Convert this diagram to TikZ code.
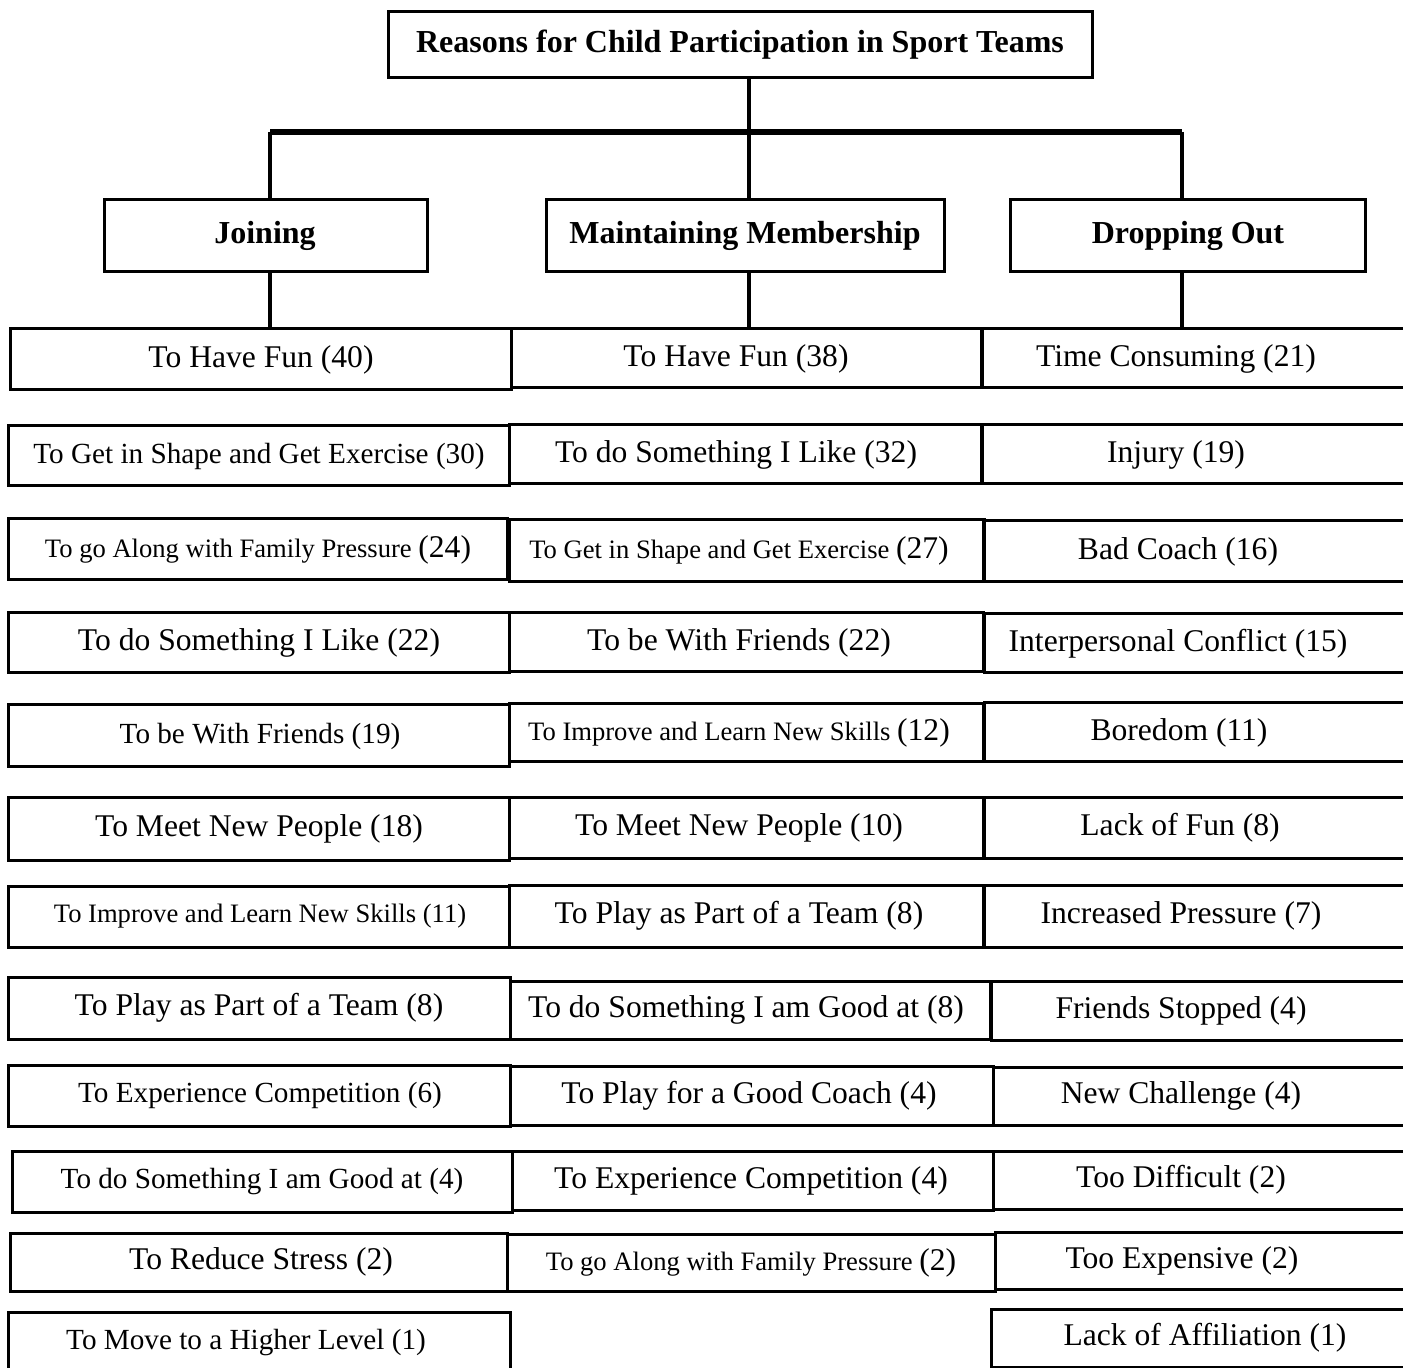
\documentclass[tikz,border=0pt]{standalone}
\usepackage{fontspec}
\setmainfont{Liberation Serif}
\newcommand\szB{\fontsize{15.8pt}{18pt}\selectfont}
\newcommand\szM{\fontsize{14.6pt}{17pt}\selectfont}
\newcommand\szS{\fontsize{13.3pt}{16pt}\selectfont}
\newcommand\szH{\fontsize{16pt}{19pt}\selectfont\bfseries}
\tikzset{
  box/.style={draw=black, line width=1.5pt, rectangle, inner sep=0pt, outer sep=0pt},
  txt/.style={inner sep=0pt, outer sep=0pt, text=black},
  conn/.style={draw=black, line width=1.6pt},
  hbar/.style={draw=black, line width=2.6pt},
}
\newcommand\mybox[7]{%
  \node[box, minimum width={(#4-#2)*0.5pt}, minimum height={(#5-#3)*0.5pt}] (#1) at ({(#2+#4)/2},{(#3+#5)/2}) {};
  \node[txt] (#1t) at (#6,{(#3+#5)/2}) {#7};}
\begin{document}
\begin{tikzpicture}[x=0.5pt,y=-0.5pt]
\useasboundingbox (0,0) rectangle (1403,1368);
\fill[white] (0,0) rectangle (1403,1368);
\clip (0,0) rectangle (1403,1368);

% title and headers
\mybox{title}{388}{12}{1092}{78}{740}{\szH Reasons for Child Participation in Sport Teams}
\mybox{join}{104}{200}{427}{272}{265}{\szH Joining}
\mybox{maint}{546}{200}{944}{272}{745}{\szH Maintaining Membership}
\mybox{drop}{1010}{200}{1365}{272}{1188}{\szH Dropping Out}

% Joining column
\mybox{j1}{10}{329}{511}{390}{261}{\szB To Have Fun (40)}
\mybox{j2}{8}{426}{509}{486}{259}{\szM To Get in Shape and Get Exercise (30)}
\mybox{j3}{8}{519}{507}{580}{258}{{\szS To go Along with Family Pressure }{\szB (24)}}
\mybox{j4}{8}{613}{509}{673}{259}{\szB To do Something I Like (22)}
\mybox{j5}{8}{705}{509}{767}{260}{\szM To be With Friends (19)}
\mybox{j6}{8}{798}{509}{860}{259}{\szB To Meet New People (18)}
\mybox{j7}{8}{886}{509}{947}{260}{\szS To Improve and Learn New Skills (11)}
\mybox{j8}{8}{977}{510}{1039}{259}{\szB To Play as Part of a Team (8)}
\mybox{j9}{8}{1065}{510}{1126}{260}{\szM To Experience Competition (6)}
\mybox{j10}{12}{1151}{512}{1212}{262}{\szM To do Something I am Good at (4)}
\mybox{j11}{10}{1233}{507}{1291}{261}{\szB To Reduce Stress (2)}
\mybox{j12}{8}{1312}{510}{1374}{246}{\szM To Move to a Higher Level (1)}

% Maintaining column
\mybox{m1}{511}{329}{982}{388}{736}{\szB To Have Fun (38)}
\mybox{m2}{509}{425}{982}{484}{736}{\szB To do Something I Like (32)}
\mybox{m3}{509}{520}{984}{582}{739}{{\szS To Get in Shape and Get Exercise }{\szB (27)}}
\mybox{m4}{509}{613}{983}{672}{739}{\szB To be With Friends (22)}
\mybox{m5}{509}{704}{983}{762}{739}{{\szS To Improve and Learn New Skills }{\szB (12)}}
\mybox{m6}{509}{798}{983}{858}{739}{\szB To Meet New People (10)}
\mybox{m7}{509}{885}{983}{947}{739}{\szB To Play as Part of a Team (8)}
\mybox{m8}{510}{981}{990}{1039}{746}{\szB To do Something I am Good at (8)}
\mybox{m9}{510}{1066}{993}{1125}{749}{\szB To Play for a Good Coach (4)}
\mybox{m10}{512}{1151}{993}{1210}{751}{\szB To Experience Competition (4)}
\mybox{m11}{507}{1234}{995}{1291}{751}{{\szS To go Along with Family Pressure }{\szB (2)}}

% Dropping Out column
\mybox{d1}{981}{329}{1420}{388}{1176}{\szB Time Consuming (21)}
\mybox{d2}{981}{425}{1420}{484}{1176}{\szB Injury (19)}
\mybox{d3}{983}{521}{1420}{582}{1178}{\szB Bad Coach (16)}
\mybox{d4}{984}{614}{1420}{673}{1178}{\szB Interpersonal Conflict (15)}
\mybox{d5}{984}{703}{1420}{762}{1179}{\szB Boredom (11)}
\mybox{d6}{984}{798}{1420}{858}{1180}{\szB Lack of Fun (8)}
\mybox{d7}{984}{885}{1420}{947}{1181}{\szB Increased Pressure (7)}
\mybox{d8}{991}{981}{1420}{1040}{1181}{\szB Friends Stopped (4)}
\mybox{d9}{993}{1067}{1420}{1125}{1181}{\szB New Challenge (4)}
\mybox{d10}{993}{1151}{1420}{1209}{1181}{\szB Too Difficult (2)}
\mybox{d11}{995}{1232}{1420}{1289}{1182}{\szB Too Expensive (2)}
\mybox{d12}{991}{1309}{1420}{1367}{1205}{\szB Lack of Affiliation (1)}

% connectors
\coordinate (hl) at (270,132);
\coordinate (hm) at (749,132);
\coordinate (hr) at (1182,132);
\draw[conn] (title.south -| hm) -- (hm);
\draw[hbar] (hl) -- (hr);
\draw[conn] (hl) -- (hl |- join.north);
\draw[conn] (hm) -- (hm |- maint.north);
\draw[conn] (hr) -- (hr |- drop.north);
\draw[conn] (hl |- join.south) -- (hl |- j1.north);
\draw[conn] (hm |- maint.south) -- (hm |- m1.north);
\draw[conn] (hr |- drop.south) -- (hr |- d1.north);
\end{tikzpicture}
\end{document}
